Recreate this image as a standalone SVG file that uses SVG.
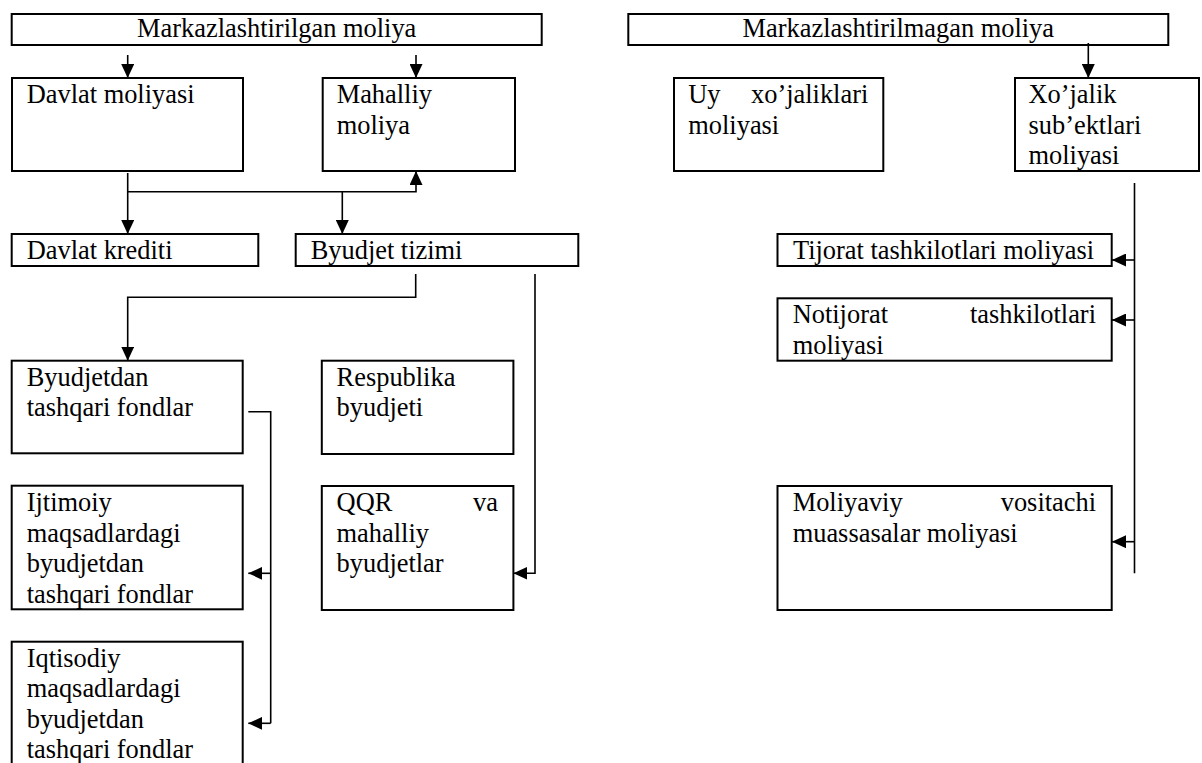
<svg xmlns="http://www.w3.org/2000/svg" width="1202" height="763" viewBox="0 0 1202 763">
<defs>
<style>
.box{fill:#fff;stroke:#000;stroke-width:2}
.t{font-family:"Liberation Serif","Times New Roman",serif;font-size:26.4px;fill:#000}
.e{text-anchor:end}
.m{text-anchor:middle}
.c{fill:none;stroke:#000;stroke-width:1.6}
.a{marker-end:url(#arr)}
</style>
<marker id="arr" viewBox="0 0 14 13" refX="14" refY="6.5" markerWidth="14" markerHeight="13" markerUnits="userSpaceOnUse" orient="auto">
<path d="M0,0 L14,6.5 L0,13 z" fill="#000"/>
</marker>
</defs>
<rect width="1202" height="763" fill="#fff"/>

<g id="markaz">
<rect class="box" x="11.7" y="14" width="530" height="31"/>
<text class="t m" x="276.7" y="37">Markazlashtirilgan moliya</text>
</g>
<g id="nomarkaz">
<rect class="box" x="628.3" y="14" width="540" height="31"/>
<text class="t m" x="898.3" y="37">Markazlashtirilmagan moliya</text>
</g>

<g id="davlat-moliyasi">
<rect class="box" x="12" y="78" width="231" height="93"/>
<text class="t" x="26.7" y="103">Davlat moliyasi</text>
</g>
<g id="mahalliy-moliya">
<rect class="box" x="322.7" y="78" width="192.3" height="93"/>
<text class="t" x="336.7" y="103">Mahalliy</text>
<text class="t" x="336.7" y="133.5">moliya</text>
</g>
<g id="uy">
<rect class="box" x="674" y="78" width="209.3" height="93"/>
<text class="t" x="688.3" y="103">Uy</text>
<text class="t e" x="868.3" y="103">xo’jaliklari</text>
<text class="t" x="688.3" y="133.5">moliyasi</text>
</g>
<g id="xojalik">
<rect class="box" x="1015" y="78" width="184" height="93"/>
<text class="t" x="1028.5" y="103">Xo’jalik</text>
<text class="t" x="1028.5" y="133.5">sub’ektlari</text>
<text class="t" x="1028.5" y="164">moliyasi</text>
</g>

<g id="davlat-krediti">
<rect class="box" x="11.7" y="234" width="246.6" height="32"/>
<text class="t" x="26.7" y="259">Davlat krediti</text>
</g>
<g id="byudjet-tizimi">
<rect class="box" x="295.7" y="234" width="282.6" height="32"/>
<text class="t" x="310.7" y="259">Byudjet tizimi</text>
</g>
<g id="tijorat">
<rect class="box" x="777.5" y="234" width="334.2" height="32"/>
<text class="t" x="793" y="259">Tijorat tashkilotlari moliyasi</text>
</g>
<g id="notijorat">
<rect class="box" x="777.5" y="298.3" width="334.2" height="62.4"/>
<text class="t" x="792.7" y="323.3">Notijorat</text>
<text class="t e" x="1096" y="323.3">tashkilotlari</text>
<text class="t" x="792.7" y="353.8">moliyasi</text>
</g>

<g id="byudjetdan">
<rect class="box" x="11.7" y="360.7" width="231" height="92.6"/>
<text class="t" x="26.7" y="385.7">Byudjetdan</text>
<text class="t" x="26.7" y="416.2">tashqari fondlar</text>
</g>
<g id="respublika">
<rect class="box" x="321.8" y="360.7" width="191.6" height="93.3"/>
<text class="t" x="336.6" y="385.7">Respublika</text>
<text class="t" x="336.6" y="416.2">byudjeti</text>
</g>

<g id="ijtimoiy">
<rect class="box" x="11.7" y="485.7" width="231" height="123.6"/>
<text class="t" x="26.7" y="511">Ijtimoiy</text>
<text class="t" x="26.7" y="541.5">maqsadlardagi</text>
<text class="t" x="26.7" y="572">byudjetdan</text>
<text class="t" x="26.7" y="602.5">tashqari fondlar</text>
</g>
<g id="qqr">
<rect class="box" x="321.8" y="486" width="191.6" height="124"/>
<text class="t" x="336.6" y="511">QQR</text>
<text class="t e" x="498" y="511">va</text>
<text class="t" x="336.6" y="541.5">mahalliy</text>
<text class="t" x="336.6" y="572">byudjetlar</text>
</g>
<g id="moliyaviy">
<rect class="box" x="777.5" y="486" width="334.2" height="124"/>
<text class="t" x="792.7" y="511">Moliyaviy</text>
<text class="t e" x="1096" y="511">vositachi</text>
<text class="t" x="792.7" y="541.5">muassasalar moliyasi</text>
</g>

<g id="iqtisodiy">
<rect class="box" x="11.7" y="641.7" width="231" height="124"/>
<text class="t" x="26.7" y="666.7">Iqtisodiy</text>
<text class="t" x="26.7" y="697.2">maqsadlardagi</text>
<text class="t" x="26.7" y="727.7">byudjetdan</text>
<text class="t" x="26.7" y="758.2">tashqari fondlar</text>
</g>

<g id="connectors">
<line class="c a" x1="127.7" y1="55" x2="127.7" y2="78"/>
<line class="c a" x1="416" y1="55" x2="416" y2="78"/>
<line class="c a" x1="127.7" y1="173" x2="127.7" y2="234"/>
<polyline class="c a" points="127.7,191.7 416,191.7 416,171"/>
<line class="c a" x1="342.3" y1="191.7" x2="342.3" y2="234"/>
<polyline class="c a" points="415.7,274 415.7,297.3 127.7,297.3 127.7,360.7"/>
<polyline class="c a" points="535,274 535,573.3 513.4,573.3"/>
<polyline class="c" points="248.3,411.7 270.7,411.7 270.7,723.3"/>
<line class="c a" x1="270.7" y1="573.3" x2="248.3" y2="573.3"/>
<line class="c a" x1="270.7" y1="723.3" x2="248.3" y2="723.3"/>
<line class="c a" x1="1088.3" y1="43" x2="1088.3" y2="78"/>
<line class="c" x1="1134.5" y1="183" x2="1134.5" y2="573.3"/>
<line class="c a" x1="1134.5" y1="260" x2="1112" y2="260"/>
<line class="c a" x1="1134.5" y1="320" x2="1112" y2="320"/>
<line class="c a" x1="1134.5" y1="541.7" x2="1112" y2="541.7"/>
</g>
</svg>
